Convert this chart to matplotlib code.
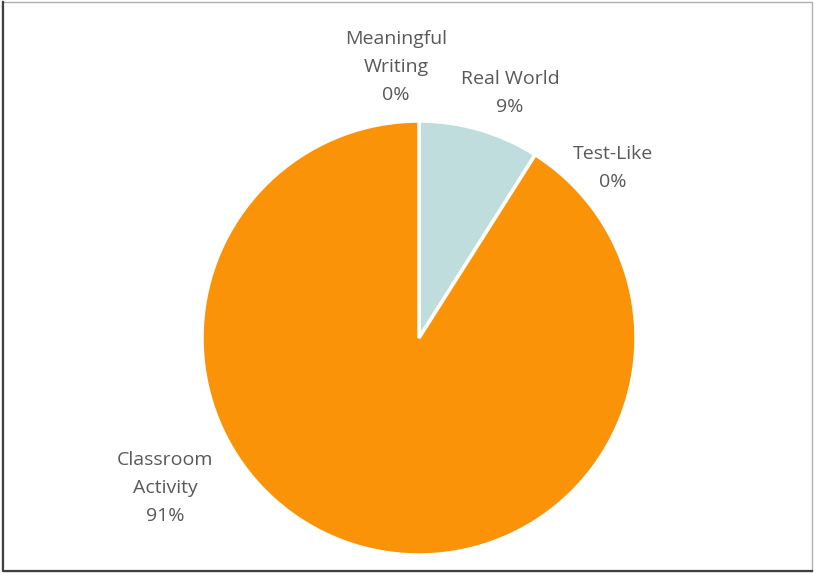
import matplotlib
matplotlib.use("Agg")
import matplotlib.pyplot as plt
from matplotlib.lines import Line2D
from matplotlib.patches import Rectangle

# share of tasks by category, clockwise from 12 o'clock
categories = ["Meaningful\nWriting", "Real World", "Test-Like", "Classroom\nActivity"]
shares = [0, 9, 0, 91]
colors = ["#5B9BD5", "#BFDDDC", "#A5A5A5", "#FB9308"]

# label centres in data units (pie radius = 1)
label_xy = [(-0.106, 1.248), (0.419, 1.128), (0.894, 0.785), (-1.171, -0.69)]

W, H = 815, 573
CX, CY, R = 419, 338, 217

fig = plt.figure(figsize=(W / 100, H / 100), dpi=100)
ax = fig.add_axes([0, 0, 1, 1])

ax.pie(shares, colors=colors, startangle=90, counterclock=False, radius=1,
       wedgeprops=dict(edgecolor="white", linewidth=2.5))

# pie() resets the limits, so pin them afterwards
ax.set_xlim(-CX / R, (W - CX) / R)
ax.set_ylim(-(H - CY) / R, CY / R)
ax.set_aspect("auto")
ax.axis("off")

for name, val, (x, y) in zip(categories, shares, label_xy):
    ax.text(x, y, f"{name}\n{val}%", ha="center", va="center", fontsize=14,
            family="Open Sans", color="#595959", linespacing=1.7)

# frame round the chart area: light on top/right, darker on left/bottom
fig.patches.append(Rectangle((0.003, 0.004), 0.993, 0.992, transform=fig.transFigure,
                             fill=False, edgecolor="#b0b0b0", linewidth=1.0))
fig.lines.append(Line2D([0.004, 0.004, 0.996], [0.996, 0.004, 0.004],
                        transform=fig.transFigure, color="#404040", linewidth=1.6))

fig.savefig("out.png", dpi=100)
